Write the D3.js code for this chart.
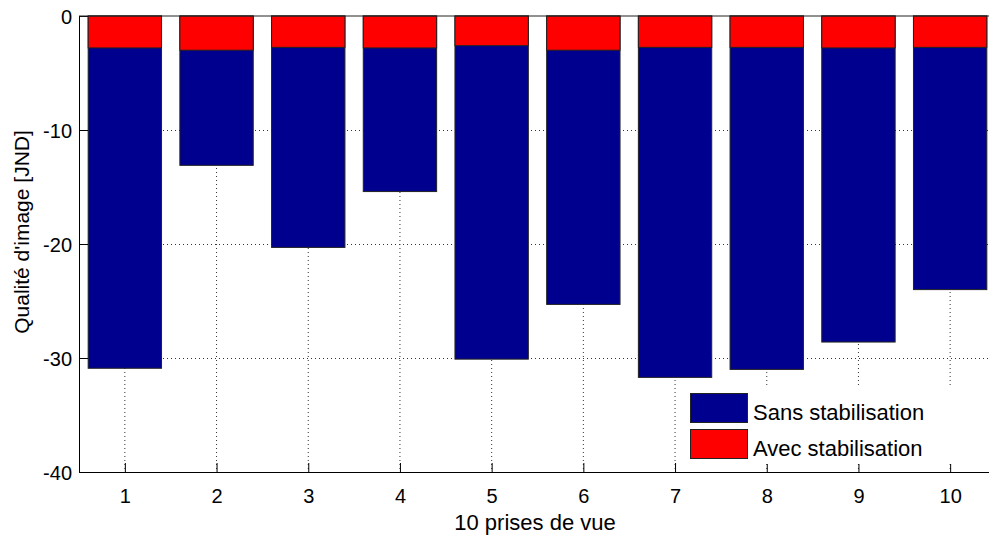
<!DOCTYPE html>
<html>
<head>
<meta charset="utf-8">
<script src="https://cdn.jsdelivr.net/npm/d3@7"></script>
<style>
body { margin: 0; background: #fff; }
text { font-family: "Liberation Sans", Arial, sans-serif; font-size: 22px; fill: #000; }
</style>
</head>
<body>
<svg width="989" height="535"></svg>
<script>
// data
var prises = [1, 2, 3, 4, 5, 6, 7, 8, 9, 10];
var sansStab = [-30.9, -13.1, -20.3, -15.4, -30.1, -25.3, -31.7, -31.0, -28.6, -24.0];
var avecStab = [-2.8, -3.0, -2.75, -2.8, -2.6, -3.0, -2.75, -2.75, -2.8, -2.75];
var yTicks = [0, -10, -20, -30, -40];
var series = ["Sans stabilisation", "Avec stabilisation"];
var colors = ["#00008f", "#ff0000"];

var svg = d3.select("svg");
var mLeft = 79, mTop = 16, mRight = 996, mBottom = 472;

var x = d3.scaleLinear().domain([0.5, 10.5]).range([mLeft, mRight]);
var y = d3.scaleLinear().domain([0, -40]).range([mTop, mBottom]);
var bw = x(0.8) - x(0);

var g = svg.append("g");

// grid, dotted
g.selectAll(".gx").data(prises).enter().append("line")
    .attr("x1", d => x(d)).attr("x2", d => x(d))
    .attr("y1", mTop).attr("y2", mBottom)
    .attr("stroke", "#333").attr("stroke-width", 1)
    .attr("stroke-dasharray", "1,3");
g.selectAll(".gy").data(yTicks.slice(1, 4)).enter().append("line")
    .attr("x1", mLeft).attr("x2", mRight)
    .attr("y1", d => y(d) + 0.5).attr("y2", d => y(d) + 0.5)
    .attr("stroke", "#333").attr("stroke-width", 1)
    .attr("stroke-dasharray", "1,3");

function bars(vals, col) {
    g.append("g").selectAll("rect").data(vals).enter().append("rect")
        .attr("x", (d, i) => x(prises[i]) - bw / 2)
        .attr("y", y(0))
        .attr("width", bw)
        .attr("height", d => y(d) - y(0))
        .attr("fill", col)
        .attr("stroke", "#222")
        .attr("stroke-width", 1);
}
bars(sansStab, colors[0]);
bars(avecStab, colors[1]);

// axes (plain hyphen for the minus, like the original)
var yAxis = d3.axisLeft(y).tickValues(yTicks).tickFormat(d => String(d))
    .tickSizeInner(-9).tickSizeOuter(0).tickPadding(7);
var xAxis = d3.axisBottom(x).tickValues(prises).tickFormat(d => String(d))
    .tickSizeInner(-9).tickSizeOuter(0).tickPadding(17);

svg.append("g").attr("transform", "translate(" + mLeft + ",0)").call(yAxis)
    .call(a => a.selectAll("text").style("font-size", "20px").style("font-family", "Liberation Sans, Arial, sans-serif").attr("dy", "0.36em"));
svg.append("g").attr("transform", "translate(0," + mBottom + ")").call(xAxis)
    .call(a => a.selectAll("text").style("font-size", "20px").style("font-family", "Liberation Sans, Arial, sans-serif"));
svg.selectAll(".domain").attr("stroke", "#000");
svg.selectAll(".tick line").attr("stroke", "#000");

// top border
svg.append("line").attr("x1", mLeft).attr("x2", mRight)
    .attr("y1", mTop).attr("y2", mTop).attr("stroke", "#222");

// legend
var lg = svg.append("g");
lg.append("rect").attr("x", 682).attr("y", 386).attr("width", 280).attr("height", 78).attr("fill", "#fff");
series.forEach(function (s, i) {
    lg.append("rect").attr("x", 690.5).attr("y", 393.5 + i * 36)
        .attr("width", 57).attr("height", 29)
        .attr("fill", colors[i]).attr("stroke", "#222");
    lg.append("text").attr("x", 753).attr("y", 420 + i * 36).text(s);
});

// labels
svg.append("text").attr("x", 535).attr("y", 530).attr("text-anchor", "middle").text("10 prises de vue");
svg.append("text").attr("transform", "translate(29,232) rotate(-90)")
    .attr("text-anchor", "middle").style("font-size", "21px").text("Qualité d'image [JND]");
</script>
</body>
</html>
